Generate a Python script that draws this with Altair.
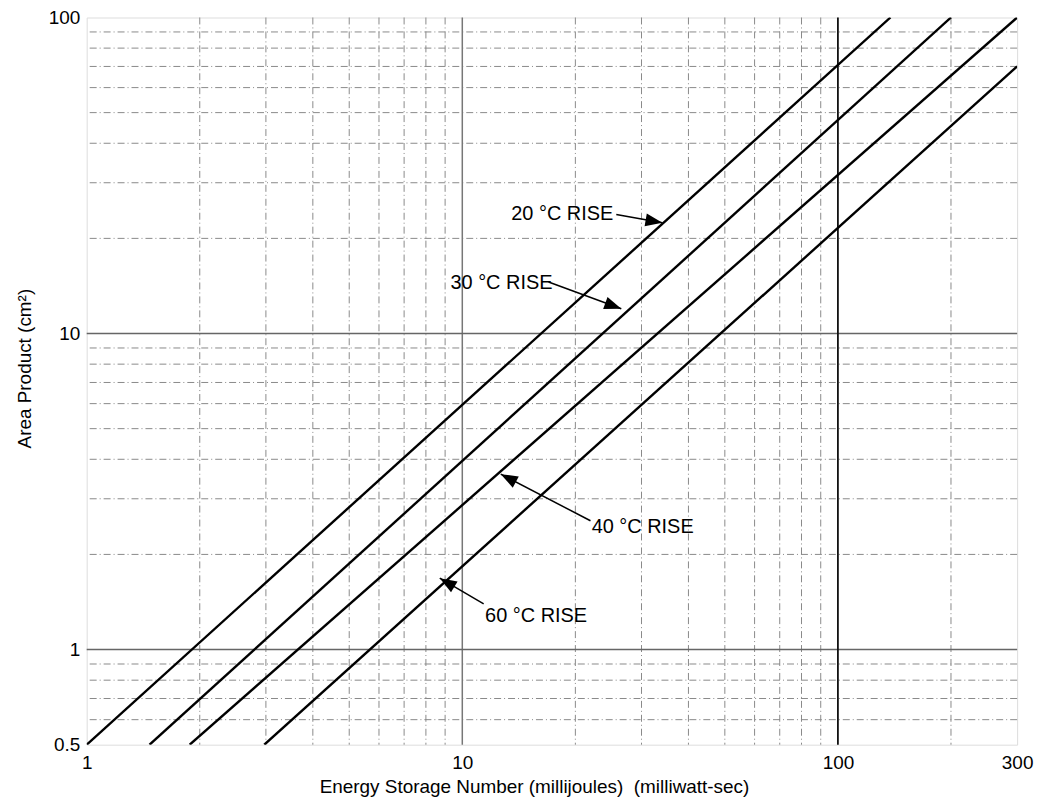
import altair as alt
import pandas as pd

# ---- data ----
series = ["20 °C RISE", "30 °C RISE", "40 °C RISE", "60 °C RISE"]
x_start = [1.0, 1.47, 1.88, 2.97]      # energy where each line leaves the bottom (Ap = 0.5)
y_start = [0.5, 0.5, 0.5, 0.5]
x_end = [138.0, 200.0, 300.0, 300.0]   # energy where each line leaves the frame
y_end = [100.0, 100.0, 100.0, 70.0]

x_ticks = [1, 10, 100, 300]
y_ticks = [0.5, 1, 10, 100]
x_minor = [2, 3, 4, 5, 6, 7, 8, 9, 20, 30, 40, 50, 60, 70, 80, 90, 200]
y_minor = [0.6, 0.7, 0.8, 0.9, 2, 3, 4, 5, 6, 7, 8, 9, 20, 30, 40, 50, 60, 70, 80, 90]
x_major_gray = [10]
x_major_black = [100]
y_major = [1, 10]

ann_text = ["20 °C RISE", "30 °C RISE", "40 °C RISE", "60 °C RISE"]
ann_tx = [13.5, 9.3, 22.1, 11.5]
ann_ty = [23.9, 14.45, 2.45, 1.28]
arrow_x0 = [25.7, 16.97, 21.94, 11.4]
arrow_y0 = [23.8, 14.56, 2.556, 1.394]
arrow_x1 = [34.1, 26.5, 12.66, 8.71]
arrow_y1 = [22.4, 11.98, 3.589, 1.682]
arrow_angle = [100, 110, 298, 301]

# ---- tables ----
rows = []
for s, xa, ya, xb, yb in zip(series, x_start, y_start, x_end, y_end):
    rows.append({"series": s, "E": xa, "Ap": ya, "o": 0})
    rows.append({"series": s, "E": xb, "Ap": yb, "o": 1})
lines_df = pd.DataFrame(rows)

ann_df = pd.DataFrame({
    "text": ann_text, "tx": ann_tx, "ty": ann_ty,
    "x0": arrow_x0, "y0": arrow_y0, "x1": arrow_x1, "y1": arrow_y1,
    "angle": arrow_angle,
})

FONT = "Liberation Sans"
xscale = alt.Scale(type="log", domain=[1, 300], nice=False)
yscale = alt.Scale(type="log", domain=[0.5, 100], nice=False)

gray_dash = [7, 3, 1, 3]

xminor = alt.Chart(pd.DataFrame({"v": x_minor})).mark_rule(
    color="#8a8a8a", strokeWidth=1, strokeDash=gray_dash
).encode(x=alt.X("v:Q", scale=xscale))

yminor = alt.Chart(pd.DataFrame({"v": y_minor})).mark_rule(
    color="#8a8a8a", strokeWidth=1, strokeDash=gray_dash
).encode(y=alt.Y("v:Q", scale=yscale))

xmaj = alt.Chart(pd.DataFrame({"v": x_major_gray})).mark_rule(
    color="#777777", strokeWidth=1.5
).encode(x=alt.X("v:Q", scale=xscale))

xmajb = alt.Chart(pd.DataFrame({"v": x_major_black})).mark_rule(
    color="#111111", strokeWidth=1.8
).encode(x=alt.X("v:Q", scale=xscale))

ymaj = alt.Chart(pd.DataFrame({"v": y_major})).mark_rule(
    color="#666666", strokeWidth=1.5
).encode(y=alt.Y("v:Q", scale=yscale))

lines = alt.Chart(lines_df).mark_line(color="black", strokeWidth=2.4, clip=True).encode(
    x=alt.X(
        "E:Q", scale=xscale,
        axis=alt.Axis(
            values=x_ticks, format="~g", grid=False, ticks=False, domain=False,
            labelFont=FONT, labelFontSize=19, labelColor="black", labelPadding=9,
            labelFlush=False,
            title="Energy Storage Number (millijoules)\u00a0\u00a0(milliwatt-sec)",
            titleFont=FONT, titleFontSize=19, titleFontWeight="normal", titleColor="black",
            titleX=449, titleY=42, titleBaseline="middle", titleAnchor=None,
        ),
    ),
    y=alt.Y(
        "Ap:Q", scale=yscale,
        axis=alt.Axis(
            values=y_ticks, format="~g", grid=False, ticks=False, domain=False,
            labelFont=FONT, labelFontSize=19, labelColor="black", labelPadding=7,
            title="Area Product (cm²)",
            titleFont=FONT, titleFontSize=19, titleFontWeight="normal", titleColor="black",
            titleX=-62, titleY=352, titleBaseline="middle", titleAlign="center",
        ),
    ),
    detail="series:N",
    order="o:Q",
)

shafts = alt.Chart(ann_df).mark_rule(color="black", strokeWidth=1.5).encode(
    x=alt.X("x0:Q", scale=xscale), y=alt.Y("y0:Q", scale=yscale),
    x2="x1:Q", y2="y1:Q",
)

heads = alt.Chart(ann_df).mark_point(
    shape="M0,0L0.75,2L-0.75,2Z", filled=True, color="black", opacity=1, size=290
).encode(
    x=alt.X("x1:Q", scale=xscale), y=alt.Y("y1:Q", scale=yscale),
    angle=alt.Angle("angle:Q", scale=None),
)

labels = alt.Chart(ann_df).mark_text(
    align="left", baseline="middle", font=FONT, fontSize=20, color="black"
).encode(
    x=alt.X("tx:Q", scale=xscale), y=alt.Y("ty:Q", scale=yscale), text="text:N"
)

chart = alt.layer(
    xminor, yminor, xmaj, ymaj, xmajb, lines, shafts, heads, labels
).properties(
    width=934, height=730,
    autosize=alt.AutoSizeParams(type="none"),
    padding={"left": 79, "top": 8, "right": 30, "bottom": 54},
).configure_view(
    stroke="#333333", strokeWidth=1.6
).configure(background="white")

chart.save("out.html", embed_options={"renderer": "svg", "actions": False})
